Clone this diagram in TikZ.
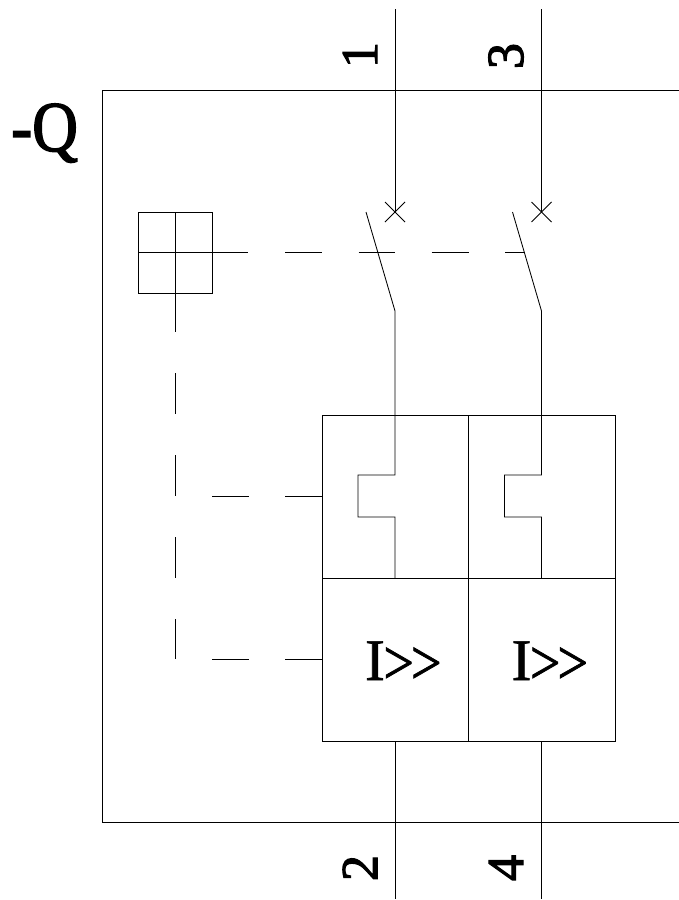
\documentclass[tikz,border=0pt]{standalone}
\usepackage{fontspec}
\usepackage{graphicx}
\setmainfont{Liberation Serif}
\newfontfamily\heavyfont{Liberation Serif}[FakeBold=2.2]
\newfontfamily\midfont{Liberation Serif}[FakeBold=1.2]
\newcommand{\gtglyph}{\raisebox{-4pt}{\scalebox{0.92}[1.08]{>}}}
\tikzset{
  wire/.style={draw=black,line width=0.85pt,line cap=butt,line join=miter},
  hdash/.style={wire,dash pattern=on 110pt off 37pt on 37pt off 36.5pt on 36.5pt off 36.5pt on 37pt off 36.5pt},
  vdash/.style={wire,dash pattern=on 120pt off 41pt on 41pt off 41pt on 41pt off 41pt on 41pt off 41pt on 41pt},
  sdash/.style={wire,dash pattern=on 37pt off 36pt on 37pt},
  term/.style={inner sep=0pt,font=\heavyfont\fontsize{52pt}{52pt}\selectfont,rotate=90,anchor=center},
  trip/.style={inner sep=0pt,font=\midfont\fontsize{59pt}{59pt}\selectfont,anchor=base west},
  tag/.style={inner sep=0pt,font=\heavyfont\fontsize{68pt}{68pt}\selectfont,anchor=base west},
}
\begin{document}
\begin{tikzpicture}[x=1pt,y=-1pt]
\useasboundingbox (0,0) rectangle (679,900);
% frame
\coordinate (fr) at (679,90);
\coordinate (ftl) at (102,90);
\coordinate (fbl) at (102,822);
\coordinate (fbr) at (679,822);
\draw[wire] (fr) -- (ftl) -- (fbl) -- (fbr);
% tag and terminals
\node[tag] (tagq) at (11,151) {\scalebox{.93}[1.05]{-Q}};
\node[term] (t1) at (360,55) {1};
\node[term] (t3) at (506,56) {3};
\node[term] (t2) at (360,868) {2};
\node[term] (t4) at (506,868) {4};
% incoming lines and crosses
\foreach \n/\x/\sx in {a/395/366,b/541.5/512.5}{
  \coordinate (top\n) at (\x,9);
  \coordinate (cr\n) at (\x,212);
  \coordinate (sw\n) at (\x,311);
  \coordinate (blade\n) at (\sx,212);
  \coordinate (boxtop\n) at (\x,415);
  \coordinate (ta\n) at (\x,475);
  \coordinate (tb\n) at (\x-37,475);
  \coordinate (tc\n) at (\x-37,517);
  \coordinate (td\n) at (\x,517);
  \coordinate (mid\n) at (\x,578);
  \coordinate (boxbot\n) at (\x,741);
  \coordinate (bot\n) at (\x,899);
  \draw[wire] (top\n) -- (cr\n);
  \draw[wire] ([shift={(-10,-10)}]cr\n) -- ([shift={(10,10)}]cr\n);
  \draw[wire] ([shift={(-10,10)}]cr\n) -- ([shift={(10,-10)}]cr\n);
  \draw[wire] (blade\n) -- (sw\n) -- (ta\n) -- (tb\n) -- (tc\n) -- (td\n) -- (mid\n);
  \draw[wire] (boxbot\n) -- (bot\n);
}
% protection boxes
\coordinate (bl) at (322,415);
\coordinate (bm) at (468.5,415);
\coordinate (br) at (615,415);
\coordinate (bll) at (322,741);
\coordinate (bml) at (468.5,741);
\coordinate (brl) at (615,741);
\coordinate (ml) at (322,578);
\coordinate (mr) at (615,578);
\draw[wire] (bl) rectangle (brl);
\draw[wire] (bm) -- (bml);
\draw[wire] (ml) -- (mr);
\node[trip] (ia) at (365,680) {I\kern-1.5pt\gtglyph\kern-3pt\gtglyph};
\node[trip] (ib) at (511.5,680) {I\kern-1.5pt\gtglyph\kern-3pt\gtglyph};
% operating handle
\coordinate (ha) at (138,212);
\coordinate (hb) at (212,293);
\coordinate (hl) at (138,252);
\coordinate (hr) at (212,252);
\coordinate (ht) at (175.5,212);
\coordinate (hu) at (175.5,293);
\draw[wire] (ha) rectangle (hb);
\draw[wire] (ht) -- (hu);
% mechanical links
\coordinate (lk) at (524.5,252);
\draw[hdash] (hl) -- (lk);
\coordinate (vend) at (175.5,659);
\draw[vdash] (ht) -- (vend);
\coordinate (ln1) at (212,496);
\coordinate (ln1e) at (322,496);
\coordinate (ln2) at (212,659.5);
\coordinate (ln2e) at (322,659.5);
\draw[sdash] (ln1) -- (ln1e);
\draw[sdash] (ln2) -- (ln2e);
\end{tikzpicture}
\end{document}
